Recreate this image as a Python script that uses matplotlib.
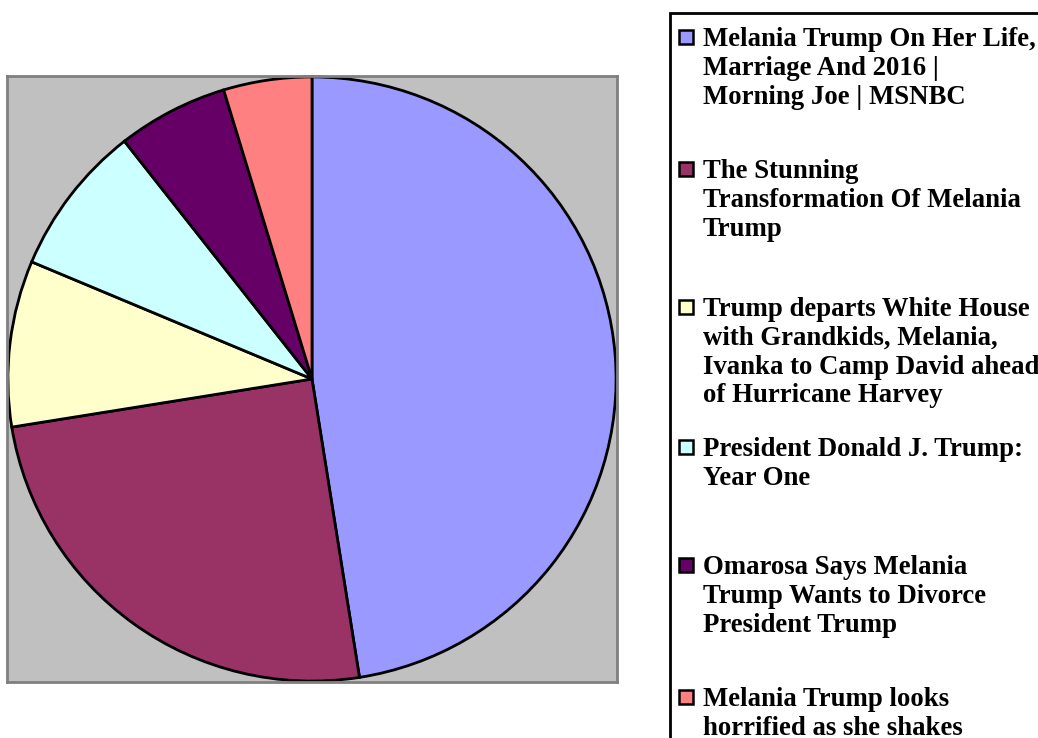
import matplotlib.pyplot as plt
from matplotlib.patches import Rectangle

labels = [
    "Melania Trump On Her Life,\nMarriage And 2016 |\nMorning Joe | MSNBC",
    "The Stunning\nTransformation Of Melania\nTrump",
    "Trump departs White House\nwith Grandkids, Melania,\nIvanka to Camp David ahead\nof Hurricane Harvey",
    "President Donald J. Trump:\nYear One",
    "Omarosa Says Melania\nTrump Wants to Divorce\nPresident Trump",
    "Melania Trump looks\nhorrified as she shakes",
]
shares = [47.6, 25.0, 8.9, 8.1, 5.9, 4.7]
colors = ["#9999FF", "#993366", "#FFFFCC", "#CCFFFF", "#660066", "#FF8080"]

# legend entry rows (pixel y of first line centre)
legend_y = [37, 169, 307, 447, 565, 697]

W, H = 1038, 738
fig = plt.figure(figsize=(W / 100, H / 100), dpi=100)

def fx(x):
    return x / W

def fy(y):
    return 1 - y / H

ax = fig.add_axes([fx(7), fy(682), fx(617) - fx(7), fy(76) - fy(682)])
ax.set_facecolor("#C0C0C0")
ax.pie(shares, colors=colors, startangle=90, counterclock=False,
       wedgeprops=dict(edgecolor="black", linewidth=2))
ax.set_aspect("auto")
ax.set_xlim(-1.003, 1.003)
ax.set_ylim(-1.003, 1.003)
ax.set_xticks([])
ax.set_yticks([])
for s in ax.spines.values():
    s.set_color("#808080")
    s.set_linewidth(2)
ax.set_frame_on(True)

# legend box
fig.patches.append(Rectangle((fx(670), fy(760)), fx(400), fy(13) - fy(760),
                             transform=fig.transFigure, fill=False,
                             edgecolor="black", linewidth=2))

for lab, col, y in zip(labels, colors, legend_y):
    fig.patches.append(Rectangle((fx(679), fy(y + 7)), fx(14), fy(y - 7) - fy(y + 7),
                                 transform=fig.transFigure, facecolor=col,
                                 edgecolor="black", linewidth=1.8))
    fig.text(fx(703), fy(y - 10), lab, ha="left", va="top",
             fontsize=19.3, fontweight="bold", family="Liberation Serif",
             linespacing=1.2)

fig.savefig("out.png", dpi=100)
